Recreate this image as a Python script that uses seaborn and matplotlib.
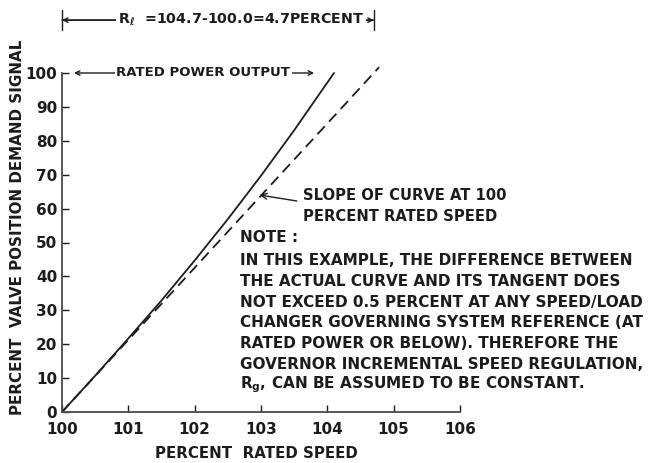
import matplotlib
matplotlib.use("Agg")
import matplotlib.pyplot as plt
import pandas as pd
import seaborn as sns

# values
actual_speed = [100.0, 100.5, 101.0, 101.5, 102.0, 102.5, 103.0, 103.5, 104.1]
actual_signal = [0.0, 10.7, 21.7, 32.9, 44.7, 56.9, 69.7, 83.1, 100.0]
tangent_speed = [100.0, 104.78]
tangent_signal = [0.0, 101.7]

x_ticks = [100, 101, 102, 103, 104, 105, 106]
y_ticks = [0, 10, 20, 30, 40, 50, 60, 70, 80, 90, 100]
regulation_end = 104.7

note_lines = [
    "IN THIS EXAMPLE, THE DIFFERENCE BETWEEN",
    "THE ACTUAL CURVE AND ITS TANGENT DOES",
    "NOT EXCEED 0.5 PERCENT AT ANY SPEED/LOAD",
    "CHANGER GOVERNING SYSTEM REFERENCE (AT",
    "RATED POWER OR BELOW). THEREFORE THE",
    "GOVERNOR INCREMENTAL SPEED REGULATION,",
    "R$_g$, CAN BE ASSUMED TO BE CONSTANT.",
]

sns.set_style("ticks")
plt.rcParams["font.family"] = ["DejaVu Sans"]
plt.rcParams["font.weight"] = "bold"
plt.rcParams["mathtext.default"] = "bf"
ink = "#1c1c1c"

fig = plt.figure(figsize=(6.51, 4.63), dpi=100)
ax = fig.add_axes([62 / 651, 51 / 463, 398 / 651, 339 / 463])

df = pd.concat([
    pd.DataFrame({"speed": actual_speed, "signal": actual_signal, "curve": "actual"}),
    pd.DataFrame({"speed": tangent_speed, "signal": tangent_signal, "curve": "tangent"}),
])
sns.lineplot(data=df, x="speed", y="signal", style="curve", color=ink, lw=1.3,
             dashes={"actual": "", "tangent": (6, 3.5)}, legend=False, ax=ax, clip_on=False)

ax.set_xlim(100, 106)
ax.set_ylim(0, 100)
ax.set_xticks(x_ticks)
ax.set_yticks(y_ticks)
ax.tick_params(direction="in", length=5, width=1, colors=ink, labelsize=11)
ax.tick_params(axis="x", pad=7)
ax.tick_params(axis="y", pad=3.5)
sns.despine(ax=ax)
for s in ["left", "bottom"]:
    ax.spines[s].set_color("#4a4a4a")
    ax.spines[s].set_linewidth(1.3)
ax.set_xlabel("")
ax.set_ylabel("")

fig.text(256 / 651, 10 / 463, "PERCENT  RATED SPEED", ha="center", va="center",
         fontsize=10.8, color=ink)
fig.text(18 / 651, 48 / 463, "PERCENT  VALVE POSITION DEMAND SIGNAL", rotation=90,
         ha="center", va="bottom", fontsize=10.9, color=ink)

# regulation span above the plot
span_y = 115.6
ax.annotate("", xy=(100, span_y), xytext=(regulation_end, span_y),
            arrowprops=dict(arrowstyle="|-|", color=ink, lw=1, shrinkA=0, shrinkB=0,
                            mutation_scale=7), annotation_clip=False)
ax.annotate("", xy=(100, span_y), xytext=(regulation_end, span_y),
            arrowprops=dict(arrowstyle="<->", color=ink, lw=1, shrinkA=0, shrinkB=0,
                            mutation_scale=8), annotation_clip=False)
ax.text(102.70, span_y, "R$_\\ell$  =104.7-100.0=4.7PERCENT", ha="center", va="center",
        fontsize=10.3, color=ink, clip_on=False,
        bbox=dict(facecolor="white", edgecolor="none", pad=1))

# rated power output arrow
ax.annotate("", xy=(100.18, 100), xytext=(103.8, 100),
            arrowprops=dict(arrowstyle="<->", color=ink, lw=1, shrinkA=0, shrinkB=0,
                            mutation_scale=8), annotation_clip=False)
ax.text(102.13, 100, "RATED POWER OUTPUT", ha="center", va="center", fontsize=9.5,
        color=ink, clip_on=False, bbox=dict(facecolor="white", edgecolor="none", pad=1))

# tangent callout
ax.annotate("SLOPE OF CURVE AT 100\nPERCENT RATED SPEED", xy=(102.98, 64.0),
            xytext=(103.63, 60.9), ha="left", va="center", fontsize=10.6, color=ink,
            linespacing=1.5,
            arrowprops=dict(arrowstyle="->", color=ink, lw=1, shrinkA=2, shrinkB=0,
                            relpos=(0, 0.6)), annotation_clip=False)

ax.text(102.68, 51.6, "NOTE :", ha="left", va="center", fontsize=11, color=ink,
        clip_on=False)
for i, line in enumerate(note_lines):
    ax.text(102.68, 44.6 - i * 6.1, line, ha="left", va="center", fontsize=11,
            color=ink, clip_on=False)

fig.savefig("out.png", dpi=100, facecolor="white")
